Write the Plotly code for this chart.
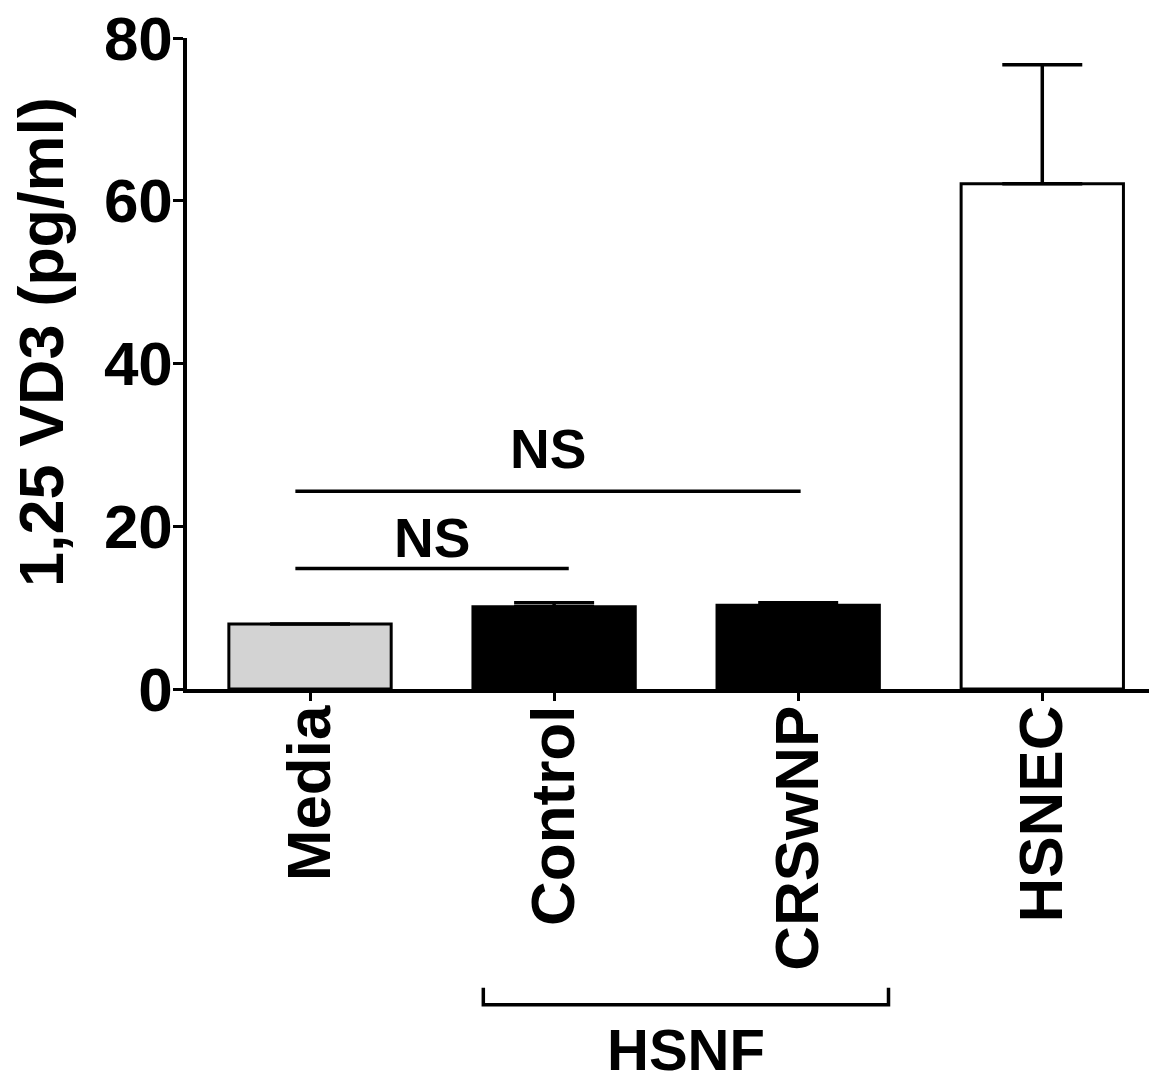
import plotly.graph_objects as go

categories = ["Media", "Control", "CRSwNP", "HSNEC"]
values = [8.0, 10.1, 10.3, 62.1]
errors = [0.0, 0.5, 0.3, 14.6]
fills = ["#d3d3d3", "#000000", "#000000", "#ffffff"]
y_ticks = [0, 20, 40, 60, 80]

ns_lines = [
    {"x0": -0.06, "x1": 1.06, "y": 14.8, "label": "NS", "label_y": 18.55},
    {"x0": -0.06, "x1": 2.01, "y": 24.3, "label": "NS", "label_y": 29.5},
]
group_label = "HSNF"
group_span = (0.71, 2.37)

FONT = "Liberation Sans, Arial, sans-serif"

fig = go.Figure()
fig.add_trace(go.Bar(
    x=list(range(len(categories))),
    y=values,
    width=0.665,
    marker=dict(color=fills, line=dict(color="black", width=3)),
    error_y=dict(type="data", symmetric=False, array=errors,
                 arrayminus=[0] * len(errors), color="black",
                 thickness=3.5, width=40),
    showlegend=False,
))

shapes = []
annotations = []
for ln in ns_lines:
    shapes.append(dict(type="line", xref="x", yref="y", x0=ln["x0"], x1=ln["x1"],
                       y0=ln["y"], y1=ln["y"], line=dict(color="black", width=3.5)))
    annotations.append(dict(x=(ln["x0"] + ln["x1"]) / 2, y=ln["label_y"], xref="x", yref="y",
                            text=ln["label"], showarrow=False, yanchor="middle",
                            font=dict(family=FONT, size=55, color="black", weight="bold")))

gx0, gx1 = group_span
by = -0.485
shapes.append(dict(type="path", xref="x", yref="paper",
                   path=f"M {gx0} {by + 0.026} L {gx0} {by} L {gx1} {by} L {gx1} {by + 0.026}",
                   line=dict(color="black", width=3.5)))
annotations.append(dict(x=(gx0 + gx1) / 2, y=-0.5, xref="x", yref="paper",
                        text=group_label, showarrow=False, yanchor="top",
                        font=dict(family=FONT, size=58, color="black", weight="bold")))

# y-axis title as an annotation (offset upward like the reference)
annotations.append(dict(x=-0.1505, y=0.533, xref="paper", yref="paper",
                        text="1,25 VD3 (pg/ml)", textangle=-90, showarrow=False,
                        xanchor="center", yanchor="middle",
                        font=dict(family=FONT, size=63, color="black", weight="bold")))

fig.update_layout(
    width=1149, height=1070,
    margin=dict(l=179, r=0, t=30, b=389),
    plot_bgcolor="white", paper_bgcolor="white",
    shapes=shapes, annotations=annotations,
    xaxis=dict(
        range=[-0.504, 3.47], automargin=False,
        tickmode="array", tickvals=list(range(len(categories))), ticktext=categories,
        tickangle=-90, ticks="outside", ticklen=8, tickwidth=3, tickcolor="black",
        ticklabelstandoff=-20, ticklabeloverflow="allow",
        showline=True, linecolor="black", linewidth=3.5, showgrid=False, zeroline=False,
        tickfont=dict(family=FONT, size=62, color="black", weight="bold"),
    ),
    yaxis=dict(
        range=[0, 80], automargin=False, tickmode="array", tickvals=y_ticks,
        ticks="outside", ticklen=10, tickwidth=3, tickcolor="black",
        ticklabelstandoff=-12, ticklabeloverflow="allow",
        showline=True, linecolor="black", linewidth=3.5, showgrid=False, zeroline=False,
        tickfont=dict(family=FONT, size=62, color="black", weight="bold"),
    ),
)

fig.write_html("out.html")
